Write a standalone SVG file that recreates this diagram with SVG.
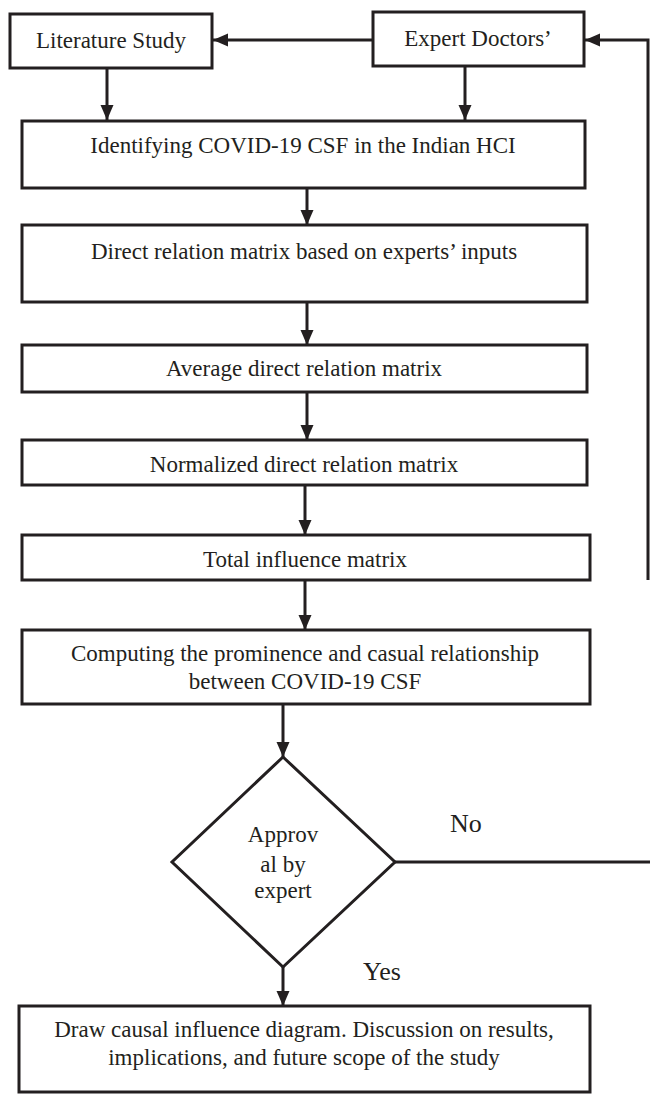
<svg xmlns="http://www.w3.org/2000/svg" width="650" height="1098" viewBox="0 0 650 1098">
<defs>
<marker id="ah" markerUnits="userSpaceOnUse" markerWidth="16" markerHeight="16" viewBox="0 0 16 16" refX="15" refY="8" orient="auto">
<path d="M0,1.5 L15,8 L0,14.5 Z" fill="#231f20"/>
</marker>
<style>
.box{fill:#fff;stroke:#231f20;stroke-width:3}
.t{font-family:"Liberation Serif","Times New Roman",serif;font-size:23px;fill:#231f20;text-anchor:middle}
.lbl{font-family:"Liberation Serif","Times New Roman",serif;font-size:26px;fill:#231f20}
.c{fill:none;stroke:#231f20;stroke-width:3}
</style>
</defs>
<g id="connectors">
<line class="c" x1="107" y1="68" x2="107" y2="120" marker-end="url(#ah)"/>
<line class="c" x1="465" y1="66" x2="465" y2="120" marker-end="url(#ah)"/>
<line class="c" x1="373" y1="40" x2="213" y2="40" marker-end="url(#ah)"/>
<polyline class="c" points="648,580 648,40 585,40" marker-end="url(#ah)"/>
<line class="c" x1="307" y1="187" x2="307" y2="225" marker-end="url(#ah)"/>
<line class="c" x1="307" y1="302" x2="307" y2="345" marker-end="url(#ah)"/>
<line class="c" x1="307" y1="392" x2="307" y2="440" marker-end="url(#ah)"/>
<line class="c" x1="305" y1="485" x2="305" y2="535" marker-end="url(#ah)"/>
<line class="c" x1="305" y1="580" x2="305" y2="630" marker-end="url(#ah)"/>
<line class="c" x1="283" y1="704" x2="283" y2="757" marker-end="url(#ah)"/>
<line class="c" x1="283" y1="967" x2="283" y2="1006" marker-end="url(#ah)"/>
<line class="c" x1="395" y1="862" x2="650" y2="862"/>
<text class="lbl" x="450" y="832">No</text>
<text class="lbl" x="363" y="980">Yes</text>
</g>
<g id="literature">
<rect class="box" x="10" y="14" width="202" height="54"/>
<text class="t" x="111" y="48">Literature Study</text>
</g>
<g id="expert">
<rect class="box" x="373" y="12" width="211" height="54"/>
<text class="t" x="478" y="46">Expert Doctors’</text>
</g>
<g id="identifying">
<rect class="box" x="22" y="121" width="563" height="67"/>
<text class="t" x="303" y="153">Identifying COVID-19 CSF in the Indian HCI</text>
</g>
<g id="direct">
<rect class="box" x="22" y="225" width="565" height="77"/>
<text class="t" x="304" y="259">Direct relation matrix based on experts’ inputs</text>
</g>
<g id="average">
<rect class="box" x="22" y="345" width="565" height="47"/>
<text class="t" x="304" y="376">Average direct relation matrix</text>
</g>
<g id="normalized">
<rect class="box" x="22" y="440" width="565" height="45"/>
<text class="t" x="304" y="472">Normalized direct relation matrix</text>
</g>
<g id="total">
<rect class="box" x="22" y="535" width="568" height="45"/>
<text class="t" x="305" y="567">Total influence matrix</text>
</g>
<g id="computing">
<rect class="box" x="22" y="630" width="568" height="74"/>
<text class="t" x="305" y="661">Computing the prominence and casual relationship</text>
<text class="t" x="305" y="689">between COVID-19 CSF</text>
</g>
<g id="approval">
<polygon class="box" points="283,757 395,862 283,967 172,862"/>
<text class="t" x="283" y="842">Approv</text>
<text class="t" x="283" y="872">al by</text>
<text class="t" x="283" y="898">expert</text>
</g>
<g id="final">
<rect class="box" x="19" y="1006" width="571" height="86"/>
<text class="t" x="304" y="1037">Draw causal influence diagram. Discussion on results,</text>
<text class="t" x="304" y="1065">implications, and future scope of the study</text>
</g>
</svg>
